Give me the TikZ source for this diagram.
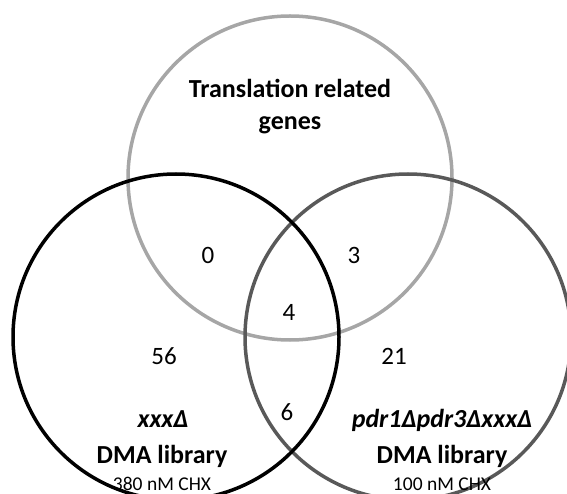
\documentclass[tikz,border=0pt]{standalone}
\usepackage{fontspec}
\setmainfont{Carlito}
\definecolor{topgray}{HTML}{A6A6A6}
\definecolor{rightgray}{HTML}{595959}
\tikzset{
  ring/.style={line width=3.5pt},
  bigtxt/.style={font=\fontsize{26}{32}\selectfont\bfseries, anchor=base, inner sep=0pt, align=center},
  numtxt/.style={font=\fontsize{25}{30}\selectfont, anchor=base, inner sep=0pt},
  smalltxt/.style={font=\fontsize{19.5}{23}\selectfont, anchor=base, inner sep=0pt}
}
\begin{document}
\begin{tikzpicture}[x=1pt,y=-1pt]
\useasboundingbox (0,0) rectangle (567,494);
\draw[ring, topgray] (290,178) circle[radius=162];
\draw[ring, rightgray] (408,337) circle[radius=163];
\draw[ring, black] (176,337) circle[radius=163];

\node[bigtxt] (t1) at (290,98) {Translation related};
\node[bigtxt] (t2) at (290,130) {genes};

\node[numtxt] (n0) at (208,263) {0};
\node[numtxt] (n3) at (354,263) {3};
\node[numtxt] (n4) at (289,320) {4};
\node[numtxt] (n56) at (164,364) {56};
\node[numtxt] (n21) at (394,364) {21};
\node[numtxt] (n6) at (287,420) {6};

\node[bigtxt] (l1) at (163,427) {\itshape xxxΔ};
\node[bigtxt] (l2) at (162,463) {DMA library};
\node[smalltxt] (l3) at (162,490) {380 nM CHX};

\node[bigtxt] (r1) at (442,427) {\itshape pdr1Δpdr3ΔxxxΔ};
\node[bigtxt] (r2) at (442,463) {DMA library};
\node[smalltxt] (r3) at (442,490) {100 nM CHX};
\end{tikzpicture}
\end{document}
